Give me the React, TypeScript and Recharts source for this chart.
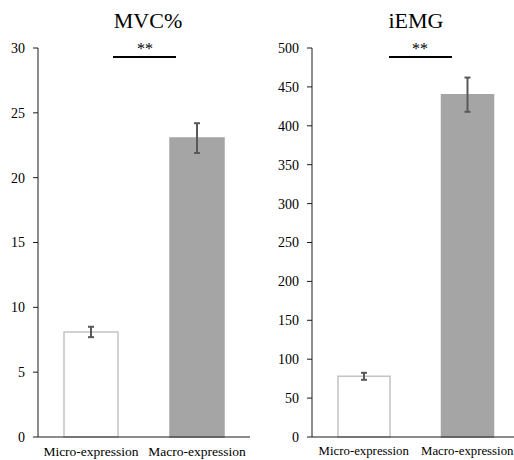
import { Bar, BarChart, Cell, ErrorBar, XAxis, YAxis } from 'recharts';

const categories = ['Micro-expression', 'Macro-expression'];
const mvcValues = [8.1, 23.05];
const mvcErrors = [0.4, 1.15];
const iemgValues = [78, 440];
const iemgErrors = [4.5, 22];
const mvcTicks = [0, 5, 10, 15, 20, 25, 30];
const iemgTicks = [0, 50, 100, 150, 200, 250, 300, 350, 400, 450, 500];

const barFills = ['#ffffff', '#a5a5a5'];
const barStrokes = ['#c4c4c4', '#a5a5a5'];
const font = '"Liberation Serif", "Times New Roman", serif';
const axisColor = '#1a1a1a';

const mvcData = categories.map((name, i) => ({ name, value: mvcValues[i], err: mvcErrors[i] }));
const iemgData = categories.map((name, i) => ({ name, value: iemgValues[i], err: iemgErrors[i] }));

const YTick = (props: any) => (
    <text x={props.x} y={props.y} dy="0.35em" textAnchor="end" fontSize={14} fontFamily={font} fill="#000">
        {props.payload.value}
    </text>
);

const makeXTick = (size: number) => (props: any) => (
    <text x={props.x} y={props.y} dy="0.71em" textAnchor="middle" fontSize={size} fontFamily={font} fill="#000">
        {props.payload.value}
    </text>
);

interface PanelProps {
    data: { name: string; value: number; err: number }[];
    ticks: number[];
    yWidth: number;
    width: number;
    barSize: number;
    right: number;
    labelSize: number;
}

function Panel({ data, ticks, yWidth, width, barSize, right, labelSize }: PanelProps) {
    const XTick = makeXTick(labelSize);
    return (
        <BarChart
            width={width}
            height={460}
            data={data}
            margin={{ top: 48, right, left: 0, bottom: 0 }}
            barSize={barSize}
        >
            <XAxis
                dataKey="name"
                height={23}
                tickLine={false}
                tickSize={0}
                tickMargin={9}
                axisLine={{ stroke: axisColor }}
                tick={<XTick />}
                interval={0}
            />
            <YAxis
                width={yWidth}
                domain={[ticks[0], ticks[ticks.length - 1]]}
                ticks={ticks}
                tickSize={5}
                tickMargin={8}
                axisLine={{ stroke: axisColor }}
                tickLine={{ stroke: axisColor }}
                tick={<YTick />}
            />
            <Bar dataKey="value" isAnimationActive={false} strokeWidth={1.5}>
                {data.map((d, i) => (
                    <Cell key={d.name} fill={barFills[i]} stroke={barStrokes[i]} />
                ))}
                <ErrorBar dataKey="err" width={3} stroke="#595959" strokeWidth={2} isAnimationActive={false} />
            </Bar>
        </BarChart>
    );
}

export default function App() {
    return (
        <div style={{ position: 'absolute', left: 0, top: 0, width: 514, height: 460, overflow: 'hidden', background: '#fff' }}>
            <div style={{ position: 'absolute', left: 0, top: 0 }}>
                <Panel data={mvcData} ticks={mvcTicks} yWidth={38} width={257} barSize={54} right={7} labelSize={13.5} />
            </div>
            <div style={{ position: 'absolute', left: 257, top: 0 }}>
                <Panel data={iemgData} ticks={iemgTicks} yWidth={55} width={262} barSize={52} right={0} labelSize={12.8} />
            </div>
            <svg width={514} height={460} style={{ position: 'absolute', left: 0, top: 0, pointerEvents: 'none' }}>
                <g fontFamily={font} fill="#000" textAnchor="middle">
                    <text x={148} y={28} fontSize={22}>MVC%</text>
                    <text x={416} y={28} fontSize={22}>iEMG</text>
                    <text x={145} y={54} fontSize={16}>**</text>
                    <text x={420} y={54} fontSize={16}>**</text>
                </g>
                <line x1={113} x2={176} y1={57} y2={57} stroke="#000" strokeWidth={2} />
                <line x1={389} x2={452} y1={57} y2={57} stroke="#000" strokeWidth={2} />
            </svg>
        </div>
    );
}
